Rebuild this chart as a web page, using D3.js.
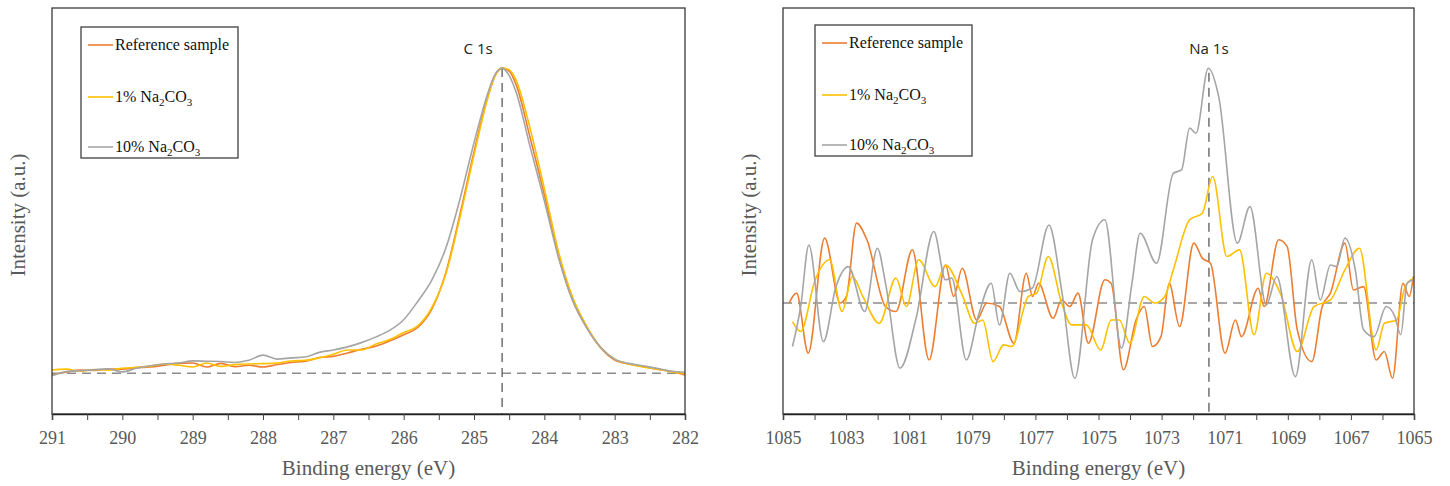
<!DOCTYPE html>
<html>
<head>
<meta charset="utf-8">
<script src="https://cdn.jsdelivr.net/npm/d3@7"></script>
<style>
  body { margin: 0; background: #fff; }
  svg { display: block; }
</style>
</head>
<body>
<div id="chart"></div>
<script>
var width = 1450,
    height = 486;

// ---- data: C 1s (left panel) ----
var c1sEnergy = [291.0, 290.8, 290.6, 290.4, 290.2, 290.0, 289.8, 289.6, 289.4, 289.2,
                 289.0, 288.8, 288.6, 288.4, 288.2, 288.0, 287.8, 287.6, 287.4, 287.2,
                 287.0, 286.8, 286.6, 286.4, 286.2, 286.0, 285.8, 285.6, 285.4, 285.2,
                 285.0, 284.8, 284.7, 284.6, 284.5, 284.4, 284.2, 284.0, 283.8, 283.6, 283.4, 283.2,
                 283.0, 282.8, 282.6, 282.4, 282.2, 282.0];
var c1sReference = [-0.6, 0.3, 1.0, 0.9, 1.3, 1.3, 1.8, 2.0, 2.6, 3.2,
                    3.3, 2.0, 3.2, 2.1, 2.6, 2.0, 2.8, 3.5, 3.9, 5.1,
                    5.5, 6.6, 7.8, 8.8, 10.5, 12.6, 15.0, 21.0, 33, 52,
                    72.5, 91, 97.5, 100, 99, 94.5, 77, 58.5, 38.5, 24, 15, 8.3,
                    4.3, 3.0, 2.2, 1.3, 0.6, -0.6];
var c1sOne = [1.0, 1.3, 0.6, 1.2, 1.0, 1.6, 1.9, 2.3, 3.0, 2.6,
              2.0, 3.3, 2.2, 2.8, 3.0, 3.1, 3.3, 4.0, 4.2, 5.0,
              6.2, 7.6, 7.6, 9.5, 11.0, 13.3, 15.5, 21.5, 32.5, 51,
              71.5, 90.5, 97.5, 100, 99.5, 96, 80, 60.5, 40, 25, 15.5, 8.5,
              4.6, 3.0, 2.0, 1.4, 0.4, 0.0];
var c1sTen = [-0.9, 0.5, 0.8, 1.1, 1.4, 0.4, 1.6, 2.4, 3.0, 3.3,
              4.0, 3.9, 3.8, 3.5, 4.2, 5.9, 4.6, 5.0, 5.3, 6.8,
              7.6, 8.6, 10.0, 11.8, 14.0, 17.5, 23.5, 30.5, 41, 57,
              75.5, 92, 98, 100, 97.5, 92, 74, 56.5, 38, 24, 15, 8.5,
              4.6, 3.2, 2.4, 1.6, 0.6, 0.3];

// ---- data: Na 1s (right panel) ----
var naRefEnergy = [1084.81, 1084.57, 1084.20, 1083.68, 1083.19, 1082.99, 1082.67, 1082.34, 1081.75, 1081.42,
                   1080.90, 1080.37, 1079.85, 1079.59, 1079.32, 1078.86, 1078.54, 1078.14, 1077.68, 1077.29,
                   1077.09, 1076.90, 1076.44, 1076.17, 1075.91, 1075.65, 1075.32, 1074.80, 1074.60, 1074.21,
                   1073.81, 1073.55, 1073.29, 1073.02, 1072.76, 1072.43, 1071.98, 1071.71, 1071.45, 1070.99,
                   1070.66, 1070.47, 1069.94, 1069.75, 1069.29, 1069.02, 1068.70, 1068.24, 1067.91, 1067.65,
                   1067.19, 1066.92, 1066.60, 1066.20, 1065.94, 1065.68, 1065.35, 1065.15, 1065.02];
var naRefValue = [0.0, 4.2, -21.3, 27.6, 0.0, 2.8, 34.0, 26.9, -1.5, -3.6,
                  22.6, -24.2, 16.2, 2.8, 14.8, -7.2, 0.0, -1.5, -17.1, 12.7,
                  2.8, 8.4, -6.5, 1.3, -1.5, 4.2, -17.1, 9.9, 8.4, -28.4,
                  -7.2, -1.5, -18.5, -14.3, 8.4, -10.0, 25.5, 19.1, 16.9, -21.3,
                  -7.2, -14.3, 6.3, -1.5, 26.9, 24.0, -11.4, -24.9, -1.5, 4.2,
                  25.5, 5.6, 7.0, -24.2, -20.6, -32.0, 8.4, 2.8, 11.3];

var naOneEnergy = [1084.70, 1084.44, 1083.98, 1083.52, 1083.13, 1082.80, 1082.47, 1081.95, 1081.42, 1081.09,
                   1080.70, 1080.18, 1079.85, 1079.32, 1078.93, 1078.67, 1078.34, 1078.01, 1077.75, 1077.22,
                   1076.96, 1076.59, 1076.17, 1075.85, 1075.39, 1074.93, 1074.60, 1074.34, 1074.01, 1073.55,
                   1073.22, 1072.90, 1072.63, 1072.11, 1071.71, 1071.38, 1070.93, 1070.53, 1070.07, 1069.68,
                   1069.22, 1068.70, 1068.17, 1067.65, 1067.19, 1066.73, 1066.20, 1065.94, 1065.55, 1065.28,
                   1065.02];
var naOneValue = [-7.9, -12.1, 9.9, 18.4, -3.6, 11.3, 2.8, -8.6, 10.6, -1.5,
                  18.4, 7.0, 16.2, 3.5, -8.6, -7.2, -24.9, -17.8, -18.5, 2.8,
                  4.2, 19.8, 0.0, -9.3, -9.3, -20.0, -7.2, -7.2, -17.1, 2.8,
                  0.0, 2.8, 14.1, 35.4, 38.2, 53.8, 19.8, 22.6, -13.5, 12.7,
                  3.5, -20.6, -1.5, 1.3, 14.1, 23.3, -20.0, -8.6, -7.2, 7.0,
                  10.6];

var naTenEnergy = [1084.70, 1084.44, 1084.18, 1083.72, 1083.32, 1082.93, 1082.41, 1082.01, 1081.75, 1081.29,
                   1080.77, 1080.22, 1079.85, 1079.65, 1079.19, 1078.80, 1078.40, 1078.14, 1077.81, 1077.49,
                   1077.10, 1076.57, 1076.17, 1075.75, 1075.19, 1074.80, 1074.27, 1073.94, 1073.68, 1073.16,
                   1072.63, 1072.37, 1072.11, 1071.91, 1071.52, 1071.19, 1070.60, 1070.20, 1069.68, 1069.35,
                   1068.76, 1068.24, 1067.97, 1067.65, 1067.45, 1067.19, 1066.86, 1066.60, 1066.27, 1065.88,
                   1065.61, 1065.42, 1065.22, 1065.02];
var naTenValue = [-18.5, -1.5, 24.7, -16.4, 7.0, 15.5, -3.6, 23.3, 8.4, -27.7,
                  -5.7, 30.4, 9.9, 10.6, -24.2, -5.0, 8.4, -9.3, 12.7, 4.9,
                  6.3, 33.2, 5.6, -32.0, 26.9, 35.4, -19.2, 8.4, 29.7, 16.9,
                  55.2, 56.6, 74.4, 72.2, 99.9, 87.8, 25.5, 41.0, -0.8, 11.3,
                  -31.3, 18.4, 1.3, 16.2, 15.5, 27.6, 14.1, -11.4, -14.3, -1.5,
                  -5.7, -13.5, 8.4, 9.9];

var seriesNames = ["Reference sample", "1% Na2CO3", "10% Na2CO3"];
var seriesColors = ["#ed7d31", "#ffc000", "#a5a5a5"];

var svg = d3.select("#chart").append("svg")
    .attr("width", width)
    .attr("height", height);

function zip(xs, ys) {
  return xs.map(function(x, i) { return { x: x, y: ys[i] }; });
}

function drawPanel(opt) {
  var x = d3.scaleLinear().domain(opt.xDomain).range([opt.left, opt.right]);
  var y = d3.scaleLinear().domain(opt.yDomain).range([opt.bottom, opt.top]);
  var g = svg.append("g");

  // reference dashed lines
  g.append("line")
      .attr("x1", opt.left).attr("x2", opt.right)
      .attr("y1", y(0)).attr("y2", y(0))
      .attr("stroke", "#8c8c8c").attr("stroke-width", 1.5)
      .attr("stroke-dasharray", "9,6");
  g.append("line")
      .attr("x1", x(opt.peakX)).attr("x2", x(opt.peakX))
      .attr("y1", y(opt.peakTop)).attr("y2", opt.bottom)
      .attr("stroke", "#707070").attr("stroke-width", 1.5)
      .attr("stroke-dasharray", "9,6");

  var line = d3.line()
      .x(function(d) { return x(d.x); })
      .y(function(d) { return y(d.y); })
      .curve(d3.curveMonotoneX);

  opt.series.forEach(function(s, i) {
    g.append("path")
        .datum(s)
        .attr("fill", "none")
        .attr("stroke", seriesColors[i])
        .attr("stroke-width", 1.6)
        .attr("d", line);
  });

  // frame
  g.append("rect")
      .attr("x", opt.left).attr("y", opt.top)
      .attr("width", opt.right - opt.left).attr("height", opt.bottom - opt.top)
      .attr("fill", "none").attr("stroke", "#3a3a3a").attr("stroke-width", 1.3);

  // x axis
  var axis = d3.axisBottom(x)
      .tickValues(opt.tickValues)
      .tickSize(6)
      .tickFormat(function(d) { return opt.labelValues.indexOf(d) >= 0 ? d3.format("d")(d) : ""; });
  var ax = g.append("g")
      .attr("transform", "translate(0," + opt.bottom + ")")
      .call(axis);
  ax.select(".domain").attr("stroke", "#222").attr("stroke-width", 1.5);
  ax.selectAll(".tick line").attr("stroke", "#444");
  ax.selectAll(".tick text")
      .attr("dy", "1.15em")
      .attr("fill", "#595959")
      .style("font-family", "'Liberation Serif', 'Times New Roman', serif")
      .style("font-size", "18px");

  // axis titles
  g.append("text")
      .attr("x", (opt.left + opt.right) / 2)
      .attr("y", 475)
      .attr("text-anchor", "middle")
      .attr("fill", "#595959")
      .style("font-family", "'Liberation Serif', 'Times New Roman', serif")
      .style("font-size", "21px")
      .text("Binding energy (eV)");
  g.append("text")
      .attr("transform", "translate(" + (opt.left - 27) + "," + ((opt.top + opt.bottom) / 2 + 4) + ") rotate(-90)")
      .attr("text-anchor", "middle")
      .attr("fill", "#595959")
      .style("font-family", "'Liberation Serif', 'Times New Roman', serif")
      .style("font-size", "21px")
      .text("Intensity (a.u.)");

  // peak label
  g.append("text")
      .attr("x", x(opt.peakX) + opt.labelShift)
      .attr("y", 54)
      .attr("text-anchor", "middle")
      .attr("fill", "#222")
      .style("font-family", "'Open Sans', 'Noto Sans', sans-serif")
      .style("font-size", "15px")
      .text(opt.peakLabel);

  // legend
  var lg = g.append("g").attr("transform", "translate(" + opt.legendX + "," + opt.legendY + ")");
  lg.append("rect")
      .attr("width", 157).attr("height", 131)
      .attr("fill", "#fff").attr("stroke", "#404040").attr("stroke-width", 1.3);
  var rows = [18, 70, 120];
  seriesNames.forEach(function(name, i) {
    lg.append("line")
        .attr("x1", 7).attr("x2", 32)
        .attr("y1", rows[i]).attr("y2", rows[i])
        .attr("stroke", seriesColors[i]).attr("stroke-width", 1.6);
    var t = lg.append("text")
        .attr("x", 34).attr("y", rows[i] + 5)
        .attr("fill", "#111")
        .style("font-family", "'Liberation Serif', 'Times New Roman', serif")
        .style("font-size", "16px");
    if (i === 0) {
      t.text(name);
    } else {
      var pct = name.split(" ")[0];
      t.append("tspan").text(pct + " Na");
      t.append("tspan").attr("dy", 4).style("font-size", "11px").text("2");
      t.append("tspan").attr("dy", -4).text("CO");
      t.append("tspan").attr("dy", 4).style("font-size", "11px").text("3");
    }
  });
}

drawPanel({
  left: 52, right: 685, top: 8, bottom: 414,
  xDomain: [291, 282],
  yDomain: [-13.4, 119.7],
  tickValues: d3.range(282, 291.01, 0.5),
  labelValues: d3.range(282, 292, 1),
  peakX: 284.6, peakTop: 100, peakLabel: "C 1s", labelShift: -24,
  legendX: 81, legendY: 27,
  series: [zip(c1sEnergy, c1sReference), zip(c1sEnergy, c1sOne), zip(c1sEnergy, c1sTen)]
});

drawPanel({
  left: 783, right: 1414, top: 8, bottom: 414,
  xDomain: [1085, 1065],
  yDomain: [-47.2, 125.5],
  tickValues: d3.range(1065, 1085.01, 1),
  labelValues: d3.range(1065, 1086, 2),
  peakX: 1071.5, peakTop: 98, peakLabel: "Na 1s", labelShift: 0,
  legendX: 815, legendY: 25,
  series: [zip(naRefEnergy, naRefValue), zip(naOneEnergy, naOneValue), zip(naTenEnergy, naTenValue)]
});
</script>
</body>
</html>
